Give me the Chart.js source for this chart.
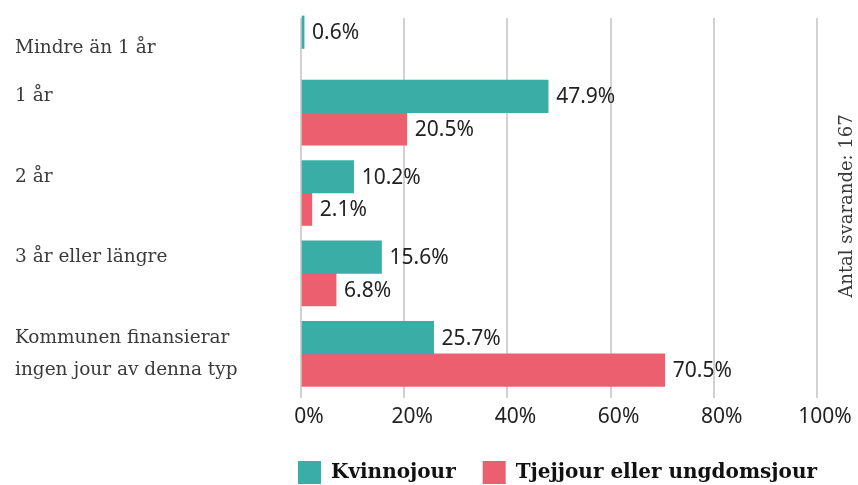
<!DOCTYPE html>
<html lang="sv">
<head>
    <meta charset="UTF-8">
    <title>Jour per kommun</title>
    <script src="https://cdn.jsdelivr.net/npm/chart.js"></script>
    <style>
        body {
            margin: 0;
            background: #fff;
            overflow: hidden;
        }
        canvas {
            display: block;
            margin-top: -8px;
        }
    </style>
</head>
<body>
    <canvas id="jourChart" width="858" height="502"></canvas>

    <script>
        const categories = ['Mindre än 1 år', '1 år', '2 år', '3 år eller längre',
            ['Kommunen finansierar', 'ingen jour av denna typ']];
        const kvinnojour = [0.6, 47.9, 10.2, 15.6, 25.7];
        const tjejjour = [null, 20.5, 2.1, 6.8, 70.5];
        const seriesNames = ['Kvinnojour', 'Tjejjour eller ungdomsjour'];
        const seriesColors = ['#3aada7', '#ec5f6f'];
        const xTickStep = 20;
        const respondents = 'Antal svarande: 167';

        const serif = "'DejaVu Serif', serif";
        const sans = "'Noto Sans', sans-serif";

        // value labels to the right of each bar
        const valueLabels = {
            id: 'valueLabels',
            afterDatasetsDraw(chart) {
                const ctx = chart.ctx;
                ctx.save();
                ctx.font = '21px ' + sans;
                ctx.fillStyle = '#222';
                ctx.textAlign = 'left';
                ctx.textBaseline = 'middle';
                chart.data.datasets.forEach((ds, i) => {
                    chart.getDatasetMeta(i).data.forEach((bar, j) => {
                        if (ds.data[j] == null) return;
                        ctx.fillText(ds.data[j].toFixed(1) + '%', bar.x + 8, bar.y + 1);
                    });
                });
                ctx.restore();
            }
        };

        // keep grid lines from running into the top margin
        const gridClip = {
            id: 'gridClip',
            beforeDraw(chart) {
                chart.ctx.save();
                chart.ctx.beginPath();
                chart.ctx.rect(0, 26, chart.width, chart.height);
                chart.ctx.clip();
            },
            beforeDatasetsDraw(chart) {
                chart.ctx.restore();
            }
        };

        // rotated note on the right side
        const sideNote = {
            id: 'sideNote',
            afterDraw(chart) {
                const ctx = chart.ctx;
                ctx.save();
                ctx.translate(847, 214);
                ctx.rotate(-Math.PI / 2);
                ctx.font = '18px ' + serif;
                ctx.fillStyle = '#3a3a3a';
                ctx.textAlign = 'center';
                ctx.textBaseline = 'middle';
                ctx.fillText(respondents, 0, 0);
                ctx.restore();
            }
        };

        new Chart(document.getElementById('jourChart'), {
            type: 'bar',
            data: {
                labels: categories,
                datasets: [{
                    label: seriesNames[0],
                    data: kvinnojour,
                    backgroundColor: seriesColors[0],
                    borderWidth: 0
                }, {
                    label: seriesNames[1],
                    data: tjejjour,
                    backgroundColor: seriesColors[1],
                    borderWidth: 0
                }]
            },
            options: {
                indexAxis: 'y',
                responsive: false,
                animation: false,
                skipNull: true,
                barThickness: 32.5,
                layout: {
                    padding: { top: 0, left: 15, right: 14, bottom: 0 }
                },
                scales: {
                    x: {
                        min: 0,
                        max: 100,
                        grid: {
                            color: '#d2d2d2',
                            lineWidth: 2,
                            tickLength: 4
                        },
                        border: { display: false },
                        ticks: {
                            stepSize: xTickStep,
                            labelOffset: 8,
                            padding: 6,
                            color: '#222',
                            font: { family: sans, size: 21 },
                            callback: v => v + '%'
                        },
                        afterFit: s => { s.height = 40; s.paddingLeft = 0; s.paddingRight = 0; }
                    },
                    y: {
                        grid: { display: false },
                        border: { display: false },
                        ticks: {
                            autoSkip: false,
                            crossAlign: 'far',
                            color: '#3a3a3a',
                            font: { family: serif, size: 18.5, lineHeight: '32px' },
                            callback: (v, i) => {
                                const lab = categories[i];
                                if (Array.isArray(lab)) return lab;
                                return tjejjour[i] == null ? ['', lab] : [lab, ''];
                            }
                        },
                        afterFit: s => { s.width = 286; s.paddingTop = 0; s.paddingBottom = 0; }
                    },
                    y2: {
                        type: 'linear',
                        position: 'right',
                        grid: { display: false },
                        border: { display: false },
                        ticks: { display: false },
                        afterFit: s => { s.width = 27; s.paddingTop = 0; s.paddingBottom = 0; }
                    }
                },
                plugins: {
                    legend: {
                        position: 'bottom',
                        align: 'end',
                        labels: {
                            boxWidth: 23,
                            boxHeight: 23,
                            padding: 27,
                            color: '#111',
                            font: { family: serif, size: 20, weight: 'bold' }
                        }
                    },
                    tooltip: { enabled: false }
                }
            },
            plugins: [valueLabels, gridClip, sideNote]
        });
    </script>
</body>
</html>
